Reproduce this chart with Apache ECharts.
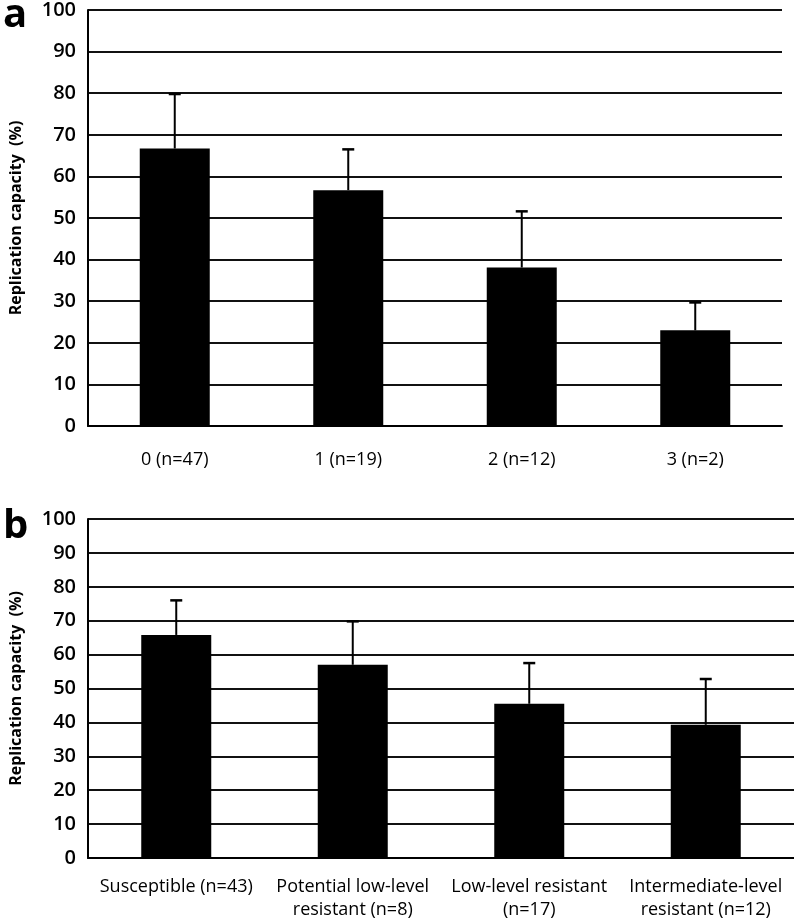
<!DOCTYPE html>
<html>
<head>
<meta charset="utf-8">
<script src="https://cdn.jsdelivr.net/npm/echarts@6/dist/echarts.min.js"></script>
<style>html,body{margin:0;padding:0;background:#fff;}#c{width:794px;height:921px;}</style>
</head>
<body>
<div id="c"></div>
<script>
const catsA = ['0 (n=47)', '1 (n=19)', '2 (n=12)', '3 (n=2)'];
const meanA = [66.7, 56.7, 38.1, 23.0];
const upperA = [79.8, 66.5, 51.6, 29.7];
const catsB = ['Susceptible (n=43)', 'Potential low-level\nresistant (n=8)', 'Low-level resistant\n(n=17)', 'Intermediate-level\nresistant (n=12)'];
const meanB = [65.8, 57.0, 45.5, 39.3];
const upperB = [76.0, 69.8, 57.5, 52.8];
const yTicks = [0, 10, 20, 30, 40, 50, 60, 70, 80, 90, 100];

const FONT = '"Open Sans", "Liberation Sans", sans-serif';
const chart = echarts.init(document.getElementById('c'), null, {renderer: 'canvas'});

function errSeries(idx, upper, mean) {
  return {
    type: 'custom', xAxisIndex: idx, yAxisIndex: idx, z: 5,
    data: mean.map((m, i) => [i, m, upper[i]]),
    renderItem: function (params, api) {
      const base = api.coord([api.value(0), api.value(1)]);
      const top = api.coord([api.value(0), api.value(2)]);
      const hw = 6;
      return {
        type: 'group',
        children: [
          {type: 'line', shape: {x1: base[0], y1: base[1], x2: top[0], y2: top[1]}, style: {stroke: '#000', lineWidth: 2}},
          {type: 'line', shape: {x1: top[0] - hw, y1: top[1], x2: top[0] + hw, y2: top[1]}, style: {stroke: '#000', lineWidth: 2.5}}
        ]
      };
    }
  };
}

function yAx(idx) {
  return {
    type: 'value', gridIndex: idx, min: 0, max: 100, interval: 10,
    name: 'Replication capacity  (%)', nameLocation: 'middle', nameGap: 64, nameRotate: 90,
    nameTextStyle: {fontFamily: FONT, fontWeight: 'bold', fontSize: 16, color: '#000'},
    axisLine: {show: true, lineStyle: {color: '#000', width: 2}},
    axisTick: {show: false},
    axisLabel: {fontFamily: FONT, fontSize: 20, fontWeight: 600, color: '#000', margin: 12,
      formatter: v => yTicks.includes(v) ? String(v) : ''},
    splitLine: {show: true, lineStyle: {color: '#111', width: 2}}
  };
}

function xAx(idx, cats, margin) {
  return {
    type: 'category', gridIndex: idx, data: cats,
    axisLine: {show: true, lineStyle: {color: '#000', width: 2}},
    axisTick: {show: false},
    axisLabel: {fontFamily: FONT, fontSize: 18, color: '#000', margin: margin, lineHeight: 23, interval: 0}
  };
}

chart.setOption({
  animation: false,
  backgroundColor: '#fff',
  grid: [
    {left: 88, top: 5, right: 12, height: 421, containLabel: false},
    {left: 88, top: 519, right: 0, height: 341, containLabel: false}
  ],
  xAxis: [xAx(0, catsA, 22), xAx(1, catsB, 17)],
  yAxis: [yAx(0), yAx(1)],
  graphic: [
    {type: 'text', x: 3, y: 16, style: {text: 'a', fontFamily: FONT, fontWeight: 'bold', fontSize: 40, fill: '#000', verticalAlign: 'middle'}},
    {type: 'text', x: 3, y: 527, style: {text: 'b', fontFamily: FONT, fontWeight: 'bold', fontSize: 40, fill: '#000', verticalAlign: 'middle'}}
  ],
  series: [
    {type: 'bar', xAxisIndex: 0, yAxisIndex: 0, data: meanA, barWidth: 70, itemStyle: {color: '#000'}, z: 3},
    errSeries(0, upperA, meanA),
    {type: 'bar', xAxisIndex: 1, yAxisIndex: 1, data: meanB, barWidth: 70, itemStyle: {color: '#000'}, z: 3},
    errSeries(1, upperB, meanB)
  ]
});
</script>
</body>
</html>
